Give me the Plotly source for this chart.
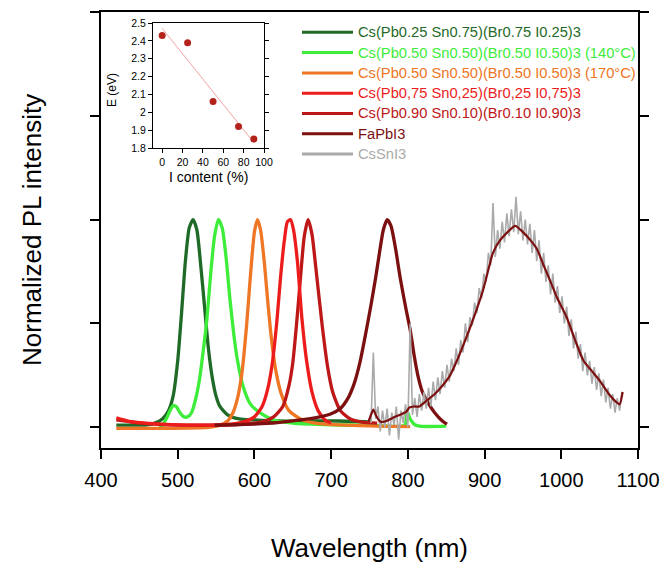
import plotly.graph_objects as go

FONT = "Liberation Sans, Arial, Helvetica, sans-serif"

# ---------------- legend names / colours ----------------
names = [
    "Cs(Pb0.25 Sn0.75)(Br0.75 I0.25)3",
    "Cs(Pb0.50 Sn0.50)(Br0.50 I0.50)3 (140°C)",
    "Cs(Pb0.50 Sn0.50)(Br0.50 I0.50)3 (170°C)",
    "Cs(Pb0,75 Sn0,25)(Br0,25 I0,75)3",
    "Cs(Pb0.90 Sn0.10)(Br0.10 I0.90)3",
    "FaPbI3",
    "CsSnI3",
]
colors = ["#1f6a27", "#3ded3a", "#ee7624", "#ec1c1c", "#bd1717", "#7c1010", "#aaaaaa"]

# ---------------- PL spectra ----------------
dg_x = [420, 440, 460, 470, 480, 488, 494, 500, 505, 510, 515, 520, 525, 530, 535, 540, 545, 550, 555, 565, 580, 600, 630, 670, 710, 752]
dg_y = [0.01, 0.01, 0.012, 0.02, 0.04, 0.08, 0.15, 0.32, 0.55, 0.80, 0.96, 1.0, 0.95, 0.78, 0.58, 0.38, 0.24, 0.15, 0.10, 0.06, 0.04, 0.035, 0.03, 0.03, 0.03, 0.025]

g_x = [476, 480, 485, 490, 494, 498, 503, 508, 513, 518, 523, 528, 533, 538, 543, 548, 553, 558, 563, 568, 573, 578, 585, 595, 607, 625, 650, 700, 750, 796, 799, 803, 808, 815, 850]
g_y = [0.0, 0.01, 0.04, 0.08, 0.105, 0.10, 0.07, 0.05, 0.05, 0.07, 0.13, 0.22, 0.36, 0.52, 0.74, 0.92, 1.0, 0.96, 0.82, 0.62, 0.45, 0.32, 0.20, 0.11, 0.07, 0.035, 0.02, 0.012, 0.01, 0.01, 0.075, 0.04, 0.015, 0.005, 0.005]

o_x = [420, 480, 540, 555, 565, 572, 578, 584, 590, 595, 600, 604, 608, 613, 618, 623, 628, 635, 645, 660, 680, 720, 760, 803]
o_y = [-0.005, -0.005, 0.0, 0.01, 0.03, 0.07, 0.14, 0.27, 0.50, 0.74, 0.94, 1.0, 0.95, 0.79, 0.58, 0.40, 0.27, 0.16, 0.08, 0.04, 0.02, 0.01, 0.005, 0.003]

r_x = [420, 435, 450, 480, 520, 560, 585, 600, 610, 617, 623, 629, 634, 639, 643, 647, 651, 656, 662, 668, 675, 683, 692, 700]
r_y = [0.045, 0.03, 0.022, 0.015, 0.01, 0.012, 0.025, 0.05, 0.10, 0.18, 0.30, 0.50, 0.72, 0.90, 0.99, 1.0, 0.95, 0.80, 0.52, 0.32, 0.17, 0.08, 0.035, 0.02]

dr_x = [420, 440, 470, 520, 570, 610, 625, 637, 645, 650, 655, 660, 665, 670, 675, 680, 688, 695, 702, 712, 725, 740, 760]
dr_y = [0.035, 0.025, 0.015, 0.01, 0.012, 0.025, 0.05, 0.10, 0.20, 0.31, 0.50, 0.72, 0.92, 1.0, 0.93, 0.77, 0.50, 0.30, 0.17, 0.08, 0.04, 0.025, 0.02]

fa_x = [548, 575, 600, 630, 660, 685, 700, 712, 722, 730, 738, 745, 752, 758, 763, 768, 773, 778, 784, 790, 797, 803, 808, 813, 819, 826, 835, 845, 851]
fa_y = [0.01, 0.012, 0.015, 0.022, 0.035, 0.05, 0.065, 0.09, 0.14, 0.21, 0.32, 0.45, 0.59, 0.72, 0.84, 0.95, 1.0, 0.97, 0.86, 0.72, 0.58, 0.47, 0.35, 0.25, 0.17, 0.12, 0.07, 0.03, 0.015]

# CsSnI3 raw (noisy) spectrum, sampled every 3 nm from 752 nm
cs_start, cs_step = 752, 3
cs_y = [0.02, 0.36, 0.04, 0.10, -0.02, 0.08, 0.00, 0.09, -0.04, 0.07,
        0.01, 0.10, -0.06, 0.08, 0.02, 0.11, 0.00, 0.50, 0.06, 0.14,
        0.05, 0.16, 0.08, 0.17, 0.09, 0.19, 0.10, 0.22, 0.13, 0.24,
        0.16, 0.27, 0.19, 0.30, 0.22, 0.33, 0.27, 0.38, 0.30, 0.42,
        0.36, 0.50, 0.41, 0.53, 0.49, 0.60, 0.55, 0.67, 0.62, 0.74,
        0.70, 0.84, 0.78, 1.08, 0.82, 0.95, 0.86, 0.99, 0.89, 1.03,
        0.92, 1.05, 0.94, 1.11, 0.93, 1.04, 0.90, 1.00, 0.88, 0.98,
        0.84, 0.95, 0.80, 0.90, 0.74, 0.84, 0.70, 0.78, 0.64, 0.74,
        0.60, 0.68, 0.55, 0.63, 0.50, 0.58, 0.44, 0.52, 0.38, 0.46,
        0.33, 0.40, 0.27, 0.36, 0.25, 0.32, 0.21, 0.29, 0.18, 0.26,
        0.15, 0.23, 0.12, 0.19, 0.09, 0.16, 0.07, 0.14, 0.08, 0.17]
cs_x = [cs_start + cs_step * i for i in range(len(cs_y))]

# CsSnI3 smoothed spectrum
css_x = [749, 752, 755, 758, 762, 766, 772, 780, 790, 798, 802, 808, 815, 825, 835, 845, 855, 865, 877, 888, 898, 905, 911, 920, 930, 940, 950, 960, 968, 977, 985, 995, 1007, 1018, 1029, 1040, 1051, 1062, 1072, 1076, 1080]
css_y = [0.03, 0.06, 0.085, 0.06, 0.035, 0.025, 0.03, 0.045, 0.06, 0.075, 0.095, 0.10, 0.10, 0.13, 0.16, 0.20, 0.25, 0.33, 0.44, 0.55, 0.66, 0.76, 0.84, 0.90, 0.94, 0.97, 0.94, 0.90, 0.86, 0.78, 0.71, 0.62, 0.53, 0.42, 0.32, 0.27, 0.22, 0.16, 0.12, 0.11, 0.17]

# ---------------- inset: band gap vs iodide content ----------------
inset_x = [0, 25, 50, 75, 90]
inset_y = [2.43, 2.39, 2.06, 1.92, 1.85]
fit_x = [0, 90]
fit_y = [2.47, 1.83]

x_ticks = [400, 500, 600, 700, 800, 900, 1000, 1100]
y_ticks = [0, 0.5, 1, 1.5, 2]

# ---------------- geometry helpers (pixels -> paper) ----------------
W, H = 661, 564
ML, MR, MT, MB = 101, 23, 12, 116
PW, PH = W - ML - MR, H - MT - MB


def px(x):
    return (x - ML) / PW


def py(y):
    return 1 - (y - MT) / PH


fig = go.Figure()

spectra = [  # drawing order: (legend index, x, y)
    (0, dg_x, dg_y),
    (1, g_x, g_y),
    (2, o_x, o_y),
    (4, dr_x, dr_y),
    (3, r_x, r_y),
    (5, fa_x, fa_y),
]
for idx, xs, ys in spectra:
    fig.add_trace(go.Scatter(
        x=xs, y=ys, mode="lines", name=names[idx], showlegend=False,
        line=dict(color=colors[idx], width=3.3, shape="spline", smoothing=0.6),
        hoverinfo="skip"))

fig.add_trace(go.Scatter(
    x=cs_x, y=cs_y, mode="lines", name=names[6], showlegend=False,
    line=dict(color=colors[6], width=1.6), hoverinfo="skip"))
fig.add_trace(go.Scatter(
    x=css_x, y=css_y, mode="lines", showlegend=False,
    line=dict(color=colors[5], width=2.2, shape="spline", smoothing=0.6),
    hoverinfo="skip"))

# inset traces
fig.add_trace(go.Scatter(
    x=fit_x, y=fit_y, mode="lines", showlegend=False, xaxis="x2", yaxis="y2",
    line=dict(color="#f2a3a3", width=1), hoverinfo="skip"))
fig.add_trace(go.Scatter(
    x=inset_x, y=inset_y, mode="markers", showlegend=False, xaxis="x2", yaxis="y2",
    marker=dict(color="#b3221b", size=7), hoverinfo="skip"))

# ---------------- legend (drawn as line samples + coloured labels) ----------------
shapes = []
annotations = []
row0, row_gap = 32.3, 20.3
for i, (nm, col) in enumerate(zip(names, colors)):
    yc = row0 + i * row_gap
    shapes.append(dict(type="line", xref="paper", yref="paper",
                       x0=px(302), x1=px(353), y0=py(yc), y1=py(yc),
                       line=dict(color=col, width=3)))
    annotations.append(dict(text=nm, xref="paper", yref="paper",
                            x=px(356), y=py(yc), xanchor="left", yanchor="middle",
                            showarrow=False, font=dict(size=14.7, color=col)))

annotations += [
    dict(text="Normalized PL intensity", xref="paper", yref="paper",
         x=px(32), y=0.5, xanchor="center", yanchor="middle",
         textangle=-90, showarrow=False, font=dict(size=26)),
    dict(text="Wavelength (nm)", xref="paper", yref="paper",
         x=px(369), y=py(548), xanchor="center", yanchor="middle",
         showarrow=False, font=dict(size=26)),
    dict(text="E (eV)", xref="paper", yref="paper",
         x=px(112), y=py(90), xanchor="center", yanchor="middle",
         textangle=-90, showarrow=False, font=dict(size=12)),
    dict(text="I content (%)", xref="paper", yref="paper",
         x=px(208), y=py(177), xanchor="center", yanchor="middle",
         showarrow=False, font=dict(size=14)),
]

axis_common = dict(showgrid=False, zeroline=False, showline=True, linecolor="black",
                   ticks="outside", tickcolor="black")

fig.update_layout(
    width=W, height=H,
    margin=dict(l=ML, r=MR, t=MT, b=MB, autoexpand=False),
    paper_bgcolor="white", plot_bgcolor="white",
    font=dict(family=FONT, color="black"),
    showlegend=False,
    xaxis=dict(range=[400, 1100], tickvals=x_ticks, linewidth=2, tickwidth=2, ticklen=9,
               mirror=True, tickfont=dict(size=20), ticklabelstandoff=4, **axis_common),
    yaxis=dict(range=[-0.1, 2.0], tickvals=y_ticks, showticklabels=False, linewidth=2,
               tickwidth=2, ticklen=9, mirror="ticks", **axis_common),
    xaxis2=dict(domain=[px(153), px(264)], anchor="y2", range=[-9, 100], dtick=20,
                linewidth=1, tickwidth=1, ticklen=4, mirror=True,
                tickfont=dict(size=10.5), **axis_common),
    yaxis2=dict(domain=[py(148), py(23)], anchor="x2", range=[1.8, 2.5], dtick=0.1,
                linewidth=1, tickwidth=1, ticklen=4, mirror="ticks",
                tickfont=dict(size=10.5), **axis_common),
    shapes=shapes,
    annotations=annotations,
)

fig.write_html("out.html")
